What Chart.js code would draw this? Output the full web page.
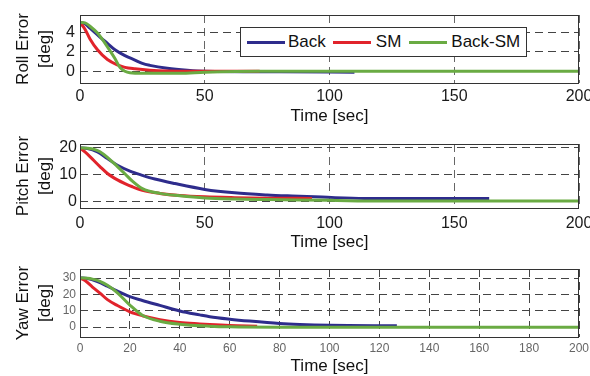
<!DOCTYPE html>
<html>
<head>
<meta charset="utf-8">
<script src="https://cdn.jsdelivr.net/npm/chart.js@4.4.0/dist/chart.umd.min.js"></script>
<style>
  body { margin: 0; background: #fff; width: 590px; height: 376px; overflow: hidden; position: relative;
         font-family: 'Liberation Sans', Arial, sans-serif; }
  .plot { position: absolute; left: 0; width: 590px; }
  #legend { position: absolute; left: 240px; top: 27px; width: 285px; height: 28px; border: 1px solid #333;
            background: #fff; display: flex; align-items: center; font-size: 17px; color: #111; z-index: 2; }
  #legend .sw { display: inline-block; width: 38px; height: 3px; }
</style>
</head>
<body>
<div class="plot" style="top:0;height:126px"><canvas id="roll"></canvas></div>
<div class="plot" style="top:126px;height:126px"><canvas id="pitch"></canvas></div>
<div class="plot" style="top:252px;height:124px"><canvas id="yaw"></canvas></div>
<div id="legend"></div>
<script>
// controller names and line colours
const seriesNames = ['Back', 'SM', 'Back-SM'];
const seriesColors = ['#2e2c8c', '#e1232b', '#6aab43'];

// axis ticks
const timeTicksWide = [0, 50, 100, 150, 200];
const timeTicksFine = [0, 20, 40, 60, 80, 100, 120, 140, 160, 180, 200];
const rollTicks = [0, 2, 4];
const pitchTicks = [0, 10, 20];
const yawTicks = [0, 10, 20, 30];

// roll error (deg) vs time (sec)
const rollBackT = [0, 2, 4, 8, 11, 14, 18, 22, 25, 28, 35, 43, 50, 80, 110];
const rollBackV = [5, 4.85, 4.4, 3.5, 2.85, 2.2, 1.6, 1.15, 0.8, 0.6, 0.3, 0.1, 0, -0.05, -0.1];
const rollSmT = [0, 2, 4, 7, 11, 15, 18, 22, 28, 35, 45, 72];
const rollSmV = [5, 4.3, 3.3, 2.2, 1.2, 0.65, 0.4, 0.25, 0.1, 0.02, 0, 0];
const rollBsT = [0, 2, 4, 7, 11, 14, 16, 18, 20, 25, 40, 50, 72, 200];
const rollBsV = [5, 4.95, 4.6, 3.9, 2.5, 1.3, 0.4, 0, -0.15, -0.2, -0.2, -0.1, 0, 0];

// pitch error (deg)
const pitchBackT = [0, 3, 7, 11, 15, 20, 25, 30, 38, 50, 62, 75, 85, 97, 114, 164];
const pitchBackV = [20, 19.8, 18.5, 16, 13.5, 11.3, 9.7, 8.3, 6.6, 4.4, 3.1, 2.3, 1.9, 1.5, 1.0, 1.0];
const pitchSmT = [0, 2, 5, 8, 11, 15, 18, 21, 25, 32, 40, 50, 62, 75, 93];
const pitchSmV = [20, 18.5, 15.8, 13, 10.4, 8, 6.6, 5.4, 4.1, 2.9, 2.1, 1.6, 1.3, 1.1, 1.0];
const pitchBsT = [0, 3, 6, 8, 11, 15, 18, 21, 25, 32, 40, 50, 62, 75, 100, 120, 200];
const pitchBsV = [20, 19.9, 19.4, 18.6, 16.5, 13, 10.3, 7.5, 4.7, 2.9, 2, 1.2, 0.8, 0.6, 0.3, 0, 0];

// yaw error (deg)
const yawBackT = [0, 3, 7, 11, 15, 20, 25, 32, 40, 48, 52, 60, 68, 80, 88, 100, 127];
const yawBackV = [30, 29.7, 27.8, 25, 22, 18.6, 16.3, 13.3, 9.9, 7.5, 6.4, 4.9, 3.7, 2.2, 1.6, 1.1, 0.8];
const yawSmT = [0, 2, 5, 8, 11, 15, 20, 25, 32, 40, 48, 52, 60, 71];
const yawSmV = [30, 28.5, 24.5, 20.8, 16.8, 13.2, 9.4, 7, 4.6, 2.9, 2, 1.6, 1, 0.6];
const yawBsT = [0, 3, 5, 8, 11, 15, 20, 25, 32, 40, 52, 60, 80, 200];
const yawBsV = [30, 29.8, 29.3, 28, 25.6, 21, 13.5, 7.3, 3.6, 1.8, 0.6, 0.2, 0, 0];

const mainFont = "'Liberation Sans', Arial, sans-serif";
const narrowFont = "'Liberation Sans Narrow', 'Arial Narrow', 'Liberation Sans', sans-serif";

function series(times, values) {
    return times.map((t, i) => ({ x: t, y: values[i] }));
}

// box around the plot area
const frame = {
    id: 'frame',
    afterDraw(chart) {
        const { ctx, chartArea: a } = chart;
        ctx.save();
        ctx.strokeStyle = '#333';
        ctx.lineWidth = 1;
        ctx.strokeRect(Math.round(a.left) + 0.5, Math.round(a.top) + 0.5, Math.round(a.width) - 1, Math.round(a.height));
        ctx.restore();
    }
};

function drawPlot(id, p) {
    new Chart(document.getElementById(id), {
        type: 'line',
        data: {
            datasets: p.data.map((d, i) => ({
                label: seriesNames[i],
                data: d,
                borderColor: seriesColors[i],
                borderWidth: 3,
                pointRadius: 0,
                cubicInterpolationMode: 'monotone',
                order: 2 - i // green drawn last, on top
            }))
        },
        options: {
            animation: false,
            responsive: true,
            maintainAspectRatio: false,
            layout: { padding: { top: p.top, right: 11, left: 0, bottom: 0 } },
            plugins: { legend: { display: false }, tooltip: { enabled: false } },
            scales: {
                x: {
                    type: 'linear', min: 0, max: 200,
                    afterBuildTicks: s => { s.ticks = p.xTicks.map(v => ({ value: v })); },
                    afterFit: s => { s.height = p.xHeight; s.paddingLeft = 0; s.paddingRight = 0; },
                    ticks: { autoSkip: false, maxRotation: 0, padding: p.xPad, color: p.tickColor,
                             font: { family: p.tickFamily, size: p.tickSize } },
                    grid: { drawTicks: false, color: p.xGrid, lineWidth: 1 },
                    border: { display: false, dash: [8, 5] },
                    title: { display: true, text: 'Time [sec]', color: '#111', padding: 0,
                             font: { family: mainFont, size: 17, lineHeight: 1.1 } }
                },
                y: {
                    min: p.yMin, max: p.yMax,
                    afterBuildTicks: s => { s.ticks = p.yTicks.map(v => ({ value: v })); },
                    afterFit: s => { s.width = 80; s.paddingTop = 0; s.paddingBottom = 0; },
                    ticks: { padding: p.yPad, color: p.tickColor, font: { family: p.tickFamily, size: p.tickSize } },
                    grid: { drawTicks: false, color: '#444', lineWidth: 1 },
                    border: { display: false, dash: [8, 5] },
                    title: { display: true, text: p.yTitle, color: '#111', padding: { top: 12, bottom: 0 },
                             font: { family: mainFont, size: 17, lineHeight: 1.3 } }
                }
            }
        },
        plugins: [frame]
    });
}

drawPlot('roll', {
    data: [series(rollBackT, rollBackV), series(rollSmT, rollSmV), series(rollBsT, rollBsV)],
    yMin: -1.2, yMax: 5.75, yTicks: rollTicks, xTicks: timeTicksWide,
    yTitle: ['Roll Error', '[deg]'], top: 15, xHeight: 43, xPad: 4, yPad: 5,
    tickColor: '#1a1a1a', tickFamily: mainFont, tickSize: 16, xGrid: '#666'
});

drawPlot('pitch', {
    data: [series(pitchBackT, pitchBackV), series(pitchSmT, pitchSmV), series(pitchBsT, pitchBsV)],
    yMin: -2.6, yMax: 21.5, yTicks: pitchTicks, xTicks: timeTicksWide,
    yTitle: ['Pitch Error', '[deg]'], top: 18, xHeight: 44, xPad: 6, yPad: 3,
    tickColor: '#1a1a1a', tickFamily: mainFont, tickSize: 16, xGrid: '#666'
});

drawPlot('yaw', {
    data: [series(yawBackT, yawBackV), series(yawSmT, yawSmV), series(yawBsT, yawBsV)],
    yMin: -6, yMax: 35.5, yTicks: yawTicks, xTicks: timeTicksFine,
    yTitle: ['Yaw Error', '[deg]'], top: 17, xHeight: 39, xPad: 4, yPad: 4,
    tickColor: '#666', tickFamily: narrowFont, tickSize: 12, xGrid: '#444'
});

// legend box inside the roll plot
const legendGaps = [[6, 3], [7, 5], [8, 4]];
const legend = document.getElementById('legend');
seriesNames.forEach((name, i) => {
    const sw = document.createElement('span');
    sw.className = 'sw';
    sw.style.background = seriesColors[i];
    sw.style.marginLeft = legendGaps[i][0] + 'px';
    sw.style.marginRight = legendGaps[i][1] + 'px';
    const txt = document.createElement('span');
    txt.textContent = name;
    legend.appendChild(sw);
    legend.appendChild(txt);
});
</script>
</body>
</html>
